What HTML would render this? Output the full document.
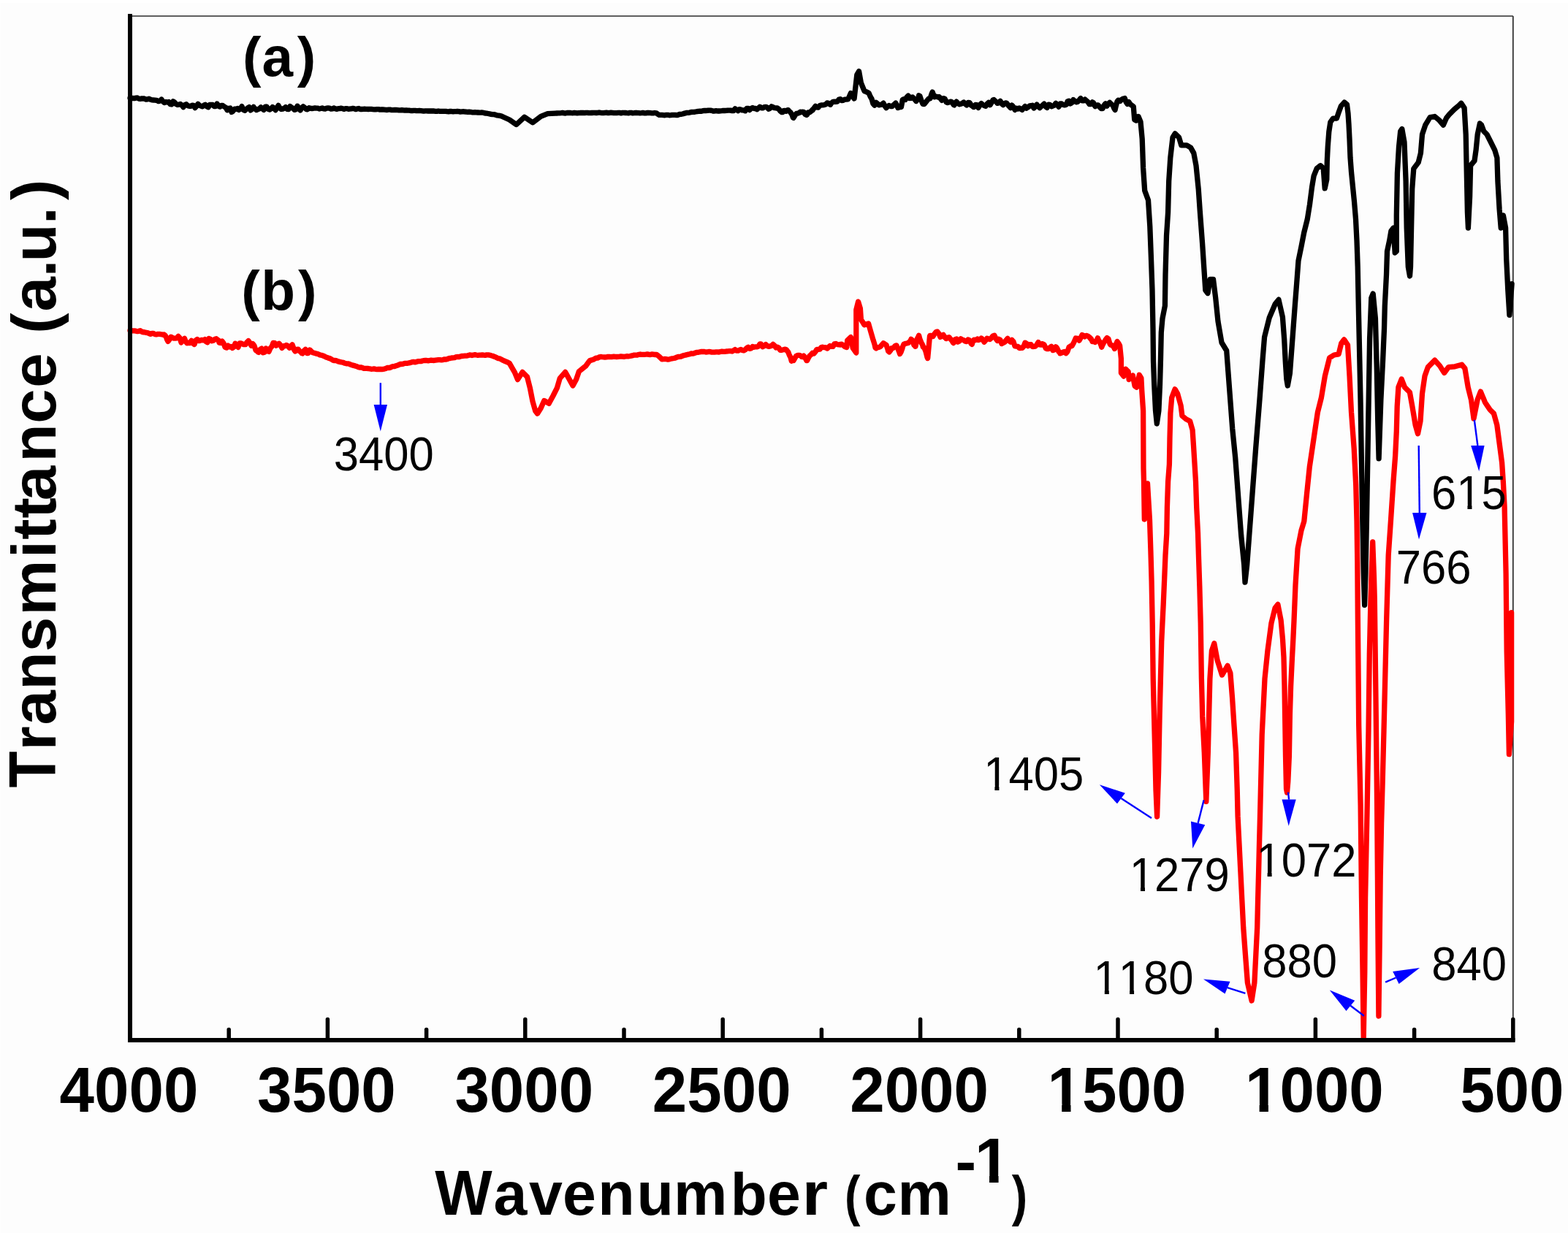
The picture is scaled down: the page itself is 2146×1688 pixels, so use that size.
<!DOCTYPE html>
<html><head><meta charset="utf-8"><title>FTIR spectra</title>
<style>html,body{margin:0;padding:0;background:#fdfdfd;overflow:hidden}svg{display:block}text{font-kerning:none;font-feature-settings:'kern' 0;}</style>
</head><body>
<svg width="2146" height="1688" viewBox="0 0 2146 1688" font-family="'Liberation Sans', Arial, sans-serif">
<defs><clipPath id="c0"><path clip-rule="evenodd" d="M-141.08,-175.00H141.08V70.00H-141.08Z"/></clipPath><clipPath id="c1"><path clip-rule="evenodd" d="M-141.08,-175.00H141.08V70.00H-141.08Z"/></clipPath><clipPath id="c2"><path clip-rule="evenodd" d="M-141.08,-175.00H141.08V70.00H-141.08Z"/></clipPath><clipPath id="c3"><path clip-rule="evenodd" d="M-141.08,-175.00H141.08V70.00H-141.08Z"/></clipPath><clipPath id="c4"><path clip-rule="evenodd" d="M-141.08,-175.00H141.08V70.00H-141.08Z"/></clipPath><clipPath id="c5"><path clip-rule="evenodd" d="M-141.08,-175.00H141.08V70.00H-141.08ZM-92.82,-10.13H-77.20V6.38H-92.82ZM-64.60,-10.13H-50.10V6.38H-64.60Z"/></clipPath><clipPath id="c6"><path clip-rule="evenodd" d="M-141.08,-175.00H141.08V70.00H-141.08ZM-92.82,-10.13H-77.20V6.38H-92.82ZM-64.60,-10.13H-50.10V6.38H-64.60Z"/></clipPath><clipPath id="c7"><path clip-rule="evenodd" d="M-116.74,-175.00H116.74V70.00H-116.74Z"/></clipPath><clipPath id="c8"><path clip-rule="evenodd" d="M-32.25,-129.00H175.74V51.60H-32.25Z"/></clipPath><clipPath id="c9"><path clip-rule="evenodd" d="M-32.25,-129.00H175.74V51.60H-32.25ZM3.91,-6.02H15.92V5.22H3.91ZM22.22,-6.02H33.72V5.22H22.22Z"/></clipPath><clipPath id="c10"><path clip-rule="evenodd" d="M-32.25,-129.00H175.74V51.60H-32.25ZM3.91,-6.02H15.92V5.22H3.91ZM22.22,-6.02H33.72V5.22H22.22Z"/></clipPath><clipPath id="c11"><path clip-rule="evenodd" d="M-32.25,-129.00H175.74V51.60H-32.25ZM3.91,-6.02H15.92V5.22H3.91ZM22.22,-6.02H33.72V5.22H22.22Z"/></clipPath><clipPath id="c12"><path clip-rule="evenodd" d="M-32.25,-129.00H175.74V51.60H-32.25ZM3.91,-6.02H15.92V5.22H3.91ZM22.22,-6.02H33.72V5.22H22.22ZM39.78,-6.02H51.79V5.22H39.78ZM58.09,-6.02H69.59V5.22H58.09Z"/></clipPath><clipPath id="c13"><path clip-rule="evenodd" d="M-32.25,-129.00H139.87V51.60H-32.25Z"/></clipPath><clipPath id="c14"><path clip-rule="evenodd" d="M-32.25,-129.00H139.87V51.60H-32.25Z"/></clipPath><clipPath id="c15"><path clip-rule="evenodd" d="M-32.25,-129.00H139.87V51.60H-32.25Z"/></clipPath><clipPath id="c16"><path clip-rule="evenodd" d="M-32.25,-129.00H139.87V51.60H-32.25ZM39.78,-6.02H51.79V5.22H39.78ZM58.09,-6.02H69.59V5.22H58.09Z"/></clipPath><clipPath id="c17"><path clip-rule="evenodd" d="M-43.45,-173.80H91.78V69.52H-43.45ZM4.47,-10.07H19.98V6.35H4.47ZM32.51,-10.07H46.91V6.35H32.51Z"/></clipPath></defs>
<rect x="0" y="0" width="2146" height="1688" fill="#fdfdfd"/>
<rect x="0" y="0" width="2146" height="4" fill="#fff"/>
<rect x="0" y="0" width="1" height="1688" fill="#fff"/>
<!-- frame -->
<line x1="178" y1="22" x2="2070.8" y2="22" stroke="#2a2a2a" stroke-width="1.7"/>
<line x1="2070.8" y1="22" x2="2070.8" y2="1424" stroke="#2a2a2a" stroke-width="1.7"/>
<!-- curves -->
<polyline points="178.0,134.2 180.0,134.3 182.0,134.5 184.0,134.7 186.0,134.1 188.0,134.0 190.0,135.1 192.0,135.4 194.0,134.8 196.0,135.0 196.6,134.8 198.0,135.2 200.0,136.2 202.0,135.9 204.0,135.2 206.0,136.2 208.0,136.9 210.0,137.0 212.0,137.1 214.0,137.4 215.0,137.6 217.0,138.7 219.0,138.1 221.0,136.1 223.0,139.1 224.6,140.2 225.0,140.5 227.0,139.4 229.0,140.0 231.0,139.4 233.0,142.7 235.0,143.0 237.0,138.7 239.0,140.2 241.0,142.5 243.0,143.5 245.0,143.1 247.0,142.5 249.0,144.1 251.0,146.6 252.6,144.2 253.0,143.4 255.0,142.8 257.0,144.7 259.0,145.3 261.0,145.3 263.0,144.1 265.0,144.3 267.0,147.6 269.0,145.4 271.0,142.3 273.0,144.4 275.0,145.1 277.0,145.8 279.0,144.3 281.0,143.2 283.0,145.8 285.0,146.8 287.0,143.5 289.0,143.3 291.0,143.5 293.0,145.5 295.0,145.6 297.0,142.0 299.0,145.2 301.0,146.1 303.0,144.4 304.7,144.4 305.0,144.7 307.0,146.1 309.0,147.2 311.0,150.8 312.2,148.8 313.0,148.3 315.0,148.0 317.0,153.4 319.0,152.1 321.0,149.1 323.0,149.4 325.0,148.4 327.0,150.5 329.0,148.9 331.0,145.6 333.0,150.2 335.0,151.3 337.0,149.7 339.0,147.8 341.0,146.6 343.0,150.9 345.0,149.4 347.0,146.4 349.0,149.0 351.0,150.6 353.0,149.7 355.0,148.8 357.0,146.9 359.0,148.8 361.0,150.5 363.0,146.2 364.4,146.0 365.0,146.1 367.0,149.4 369.0,150.1 371.0,148.9 373.0,146.5 375.0,148.0 377.0,150.7 379.0,147.7 381.0,144.4 383.0,148.0 385.0,149.5 387.0,149.1 389.0,148.2 391.0,146.5 393.0,149.3 395.0,149.6 397.0,145.5 399.0,147.3 401.0,148.2 403.0,150.4 405.0,149.8 407.0,145.2 409.0,148.0 411.0,151.0 413.0,147.5 415.0,145.8 417.0,147.4 419.0,149.4 420.3,149.8 421.0,149.5 423.0,147.6 425.0,148.3 427.0,148.5 429.0,148.3 431.0,147.8 433.0,148.1 435.0,148.1 437.0,149.0 439.0,148.5 441.0,147.9 443.0,148.8 445.0,149.0 447.0,148.2 449.0,148.0 451.0,148.2 453.0,149.1 455.0,148.8 457.0,148.0 459.0,148.8 461.0,149.4 463.0,148.7 465.0,148.6 467.0,148.1 469.0,148.8 471.0,149.4 473.0,148.6 475.0,148.7 477.0,149.3 479.0,149.0 481.0,148.9 483.0,148.3 485.0,148.8 487.0,149.7 489.0,148.8 491.0,148.5 493.0,149.5 494.9,149.5 495.0,149.5 497.0,149.3 499.0,149.1 500.0,149.3 502.0,149.3 504.0,149.5 506.0,149.3 508.0,149.4 510.0,149.7 512.0,149.8 514.0,149.9 516.0,149.6 518.0,149.6 520.0,150.2 522.0,150.0 524.0,150.0 526.0,150.1 528.0,150.3 530.0,150.5 532.0,150.2 534.0,150.2 536.0,150.6 538.0,150.6 540.0,150.4 542.0,150.5 544.0,150.7 546.0,150.9 548.0,150.9 550.0,150.7 552.0,150.9 554.0,151.2 556.0,150.9 558.0,151.1 560.0,151.2 562.0,151.5 564.0,151.7 566.0,151.3 568.0,151.3 570.0,151.6 572.0,151.6 574.0,151.5 576.0,151.6 578.0,151.8 580.0,152.1 582.0,151.9 584.0,151.8 586.0,152.0 588.0,152.0 590.0,152.0 592.0,152.0 594.0,152.0 596.0,152.4 598.0,152.4 600.0,152.0 602.0,152.3 604.0,152.4 606.0,152.3 608.0,152.4 610.0,152.3 612.0,152.6 614.0,152.8 616.0,152.4 618.0,152.5 620.0,152.8 622.0,152.6 624.0,152.7 626.0,152.5 628.0,152.7 630.0,153.1 632.0,152.9 633.9,152.8 634.0,152.7 636.0,153.0 638.0,153.1 640.0,153.3 642.0,153.1 644.0,153.3 646.0,153.8 648.0,153.8 650.0,153.7 652.0,153.8 654.0,154.0 656.0,154.2 658.0,154.2 660.0,154.0 661.9,154.3 662.0,154.4 664.0,155.0 666.0,155.1 668.0,155.5 670.0,155.9 672.0,156.3 674.0,156.7 676.0,156.7 678.0,157.1 680.0,157.9 682.0,158.1 684.0,158.4 686.0,158.8 686.1,158.8 688.0,159.7 697.3,164.0 706.6,170.6 717.8,160.3 729.0,167.8 740.2,159.4 749.5,155.7 760.0,155.1 762.0,155.0 764.0,154.9 766.0,154.9 768.0,154.7 768.1,154.7 770.0,154.4 772.0,154.8 774.0,155.0 776.0,154.5 778.0,154.5 780.0,154.5 782.0,154.7 784.0,154.8 786.0,154.3 788.0,154.6 790.0,154.9 792.0,154.6 794.0,154.5 796.0,154.3 798.0,154.5 800.0,154.7 802.0,154.4 804.0,154.3 806.0,154.7 808.0,154.7 810.0,154.5 812.0,154.3 814.0,154.3 816.0,154.5 816.6,154.5 818.0,154.4 820.0,154.0 822.0,154.4 824.0,154.6 826.0,154.6 828.0,154.4 830.0,154.2 832.0,154.6 834.0,154.5 836.0,154.2 838.0,154.4 840.0,154.7 842.0,154.7 844.0,154.6 846.0,154.4 848.0,154.4 850.0,154.8 852.0,154.4 854.0,154.3 856.0,154.5 858.0,154.7 860.0,154.8 862.0,154.4 864.0,154.4 866.0,154.8 868.0,154.7 870.0,154.3 872.0,154.5 874.0,154.6 876.0,154.8 878.0,154.7 880.0,154.4 882.0,154.8 884.0,154.8 886.0,154.4 888.0,154.5 890.0,154.6 892.0,154.8 894.0,154.9 896.0,154.5 898.0,154.8 898.6,154.8 900.0,156.1 902.0,157.2 902.3,157.4 904.0,157.3 906.0,157.4 908.0,157.6 910.0,157.8 912.0,157.3 914.0,157.3 916.0,157.8 918.0,157.7 920.0,157.4 922.0,157.3 924.0,157.4 926.0,157.7 926.6,157.7 928.0,157.2 930.0,156.5 932.0,156.4 934.0,156.0 936.0,155.4 938.0,154.9 940.0,154.3 941.5,154.3 942.0,154.3 944.0,154.1 946.0,153.5 948.0,153.4 950.0,153.4 952.0,153.0 954.0,152.7 956.0,152.3 958.0,152.2 960.0,152.3 962.0,151.7 964.0,151.5 966.0,151.5 968.0,151.4 969.4,151.1 970.0,151.2 972.0,151.1 974.0,151.4 976.0,152.1 978.0,152.0 980.0,151.7 982.0,152.0 984.0,152.0 986.0,151.8 988.0,151.6 990.0,151.3 992.0,151.5 994.0,151.4 996.0,151.1 998.0,151.2 1000.0,151.1 1002.0,151.6 1004.0,151.6 1006.0,148.8 1008.0,150.2 1010.0,151.7 1012.0,149.6 1014.0,150.0 1015.3,150.7 1016.0,150.9 1018.0,150.9 1020.0,151.8 1022.0,148.4 1024.0,148.3 1026.0,150.6 1028.0,148.5 1030.0,147.5 1032.0,148.5 1034.0,148.4 1036.0,149.8 1038.0,148.0 1040.0,146.2 1041.4,146.9 1042.0,147.9 1044.0,147.9 1046.0,146.7 1048.0,146.3 1050.0,146.9 1052.0,149.3 1054.0,148.3 1056.0,145.8 1058.0,146.6 1060.0,147.7 1062.0,148.0 1064.0,148.0 1066.0,149.4 1068.0,152.3 1070.0,153.6 1071.2,153.6 1072.0,151.6 1074.0,151.4 1076.0,152.3 1078.0,150.6 1078.7,150.6 1080.0,152.1 1082.0,153.9 1084.0,156.9 1085.2,160.8 1086.0,161.3 1088.0,158.0 1090.0,155.3 1092.0,155.1 1094.0,154.3 1095.4,153.2 1096.0,153.7 1098.0,153.2 1100.0,153.3 1102.0,156.5 1104.0,157.5 1104.7,156.8 1106.0,154.0 1108.0,153.9 1110.0,152.4 1112.0,150.2 1112.2,150.9 1114.0,148.1 1116.0,145.3 1118.0,146.8 1119.7,147.1 1120.0,146.9 1122.0,144.5 1124.0,143.9 1126.0,143.8 1128.0,143.6 1130.0,143.0 1132.0,140.9 1134.0,141.3 1136.0,143.2 1136.4,143.3 1138.0,141.0 1140.0,139.4 1142.0,139.2 1144.0,139.3 1145.8,138.6 1146.0,139.0 1148.0,136.3 1150.0,135.6 1152.0,137.7 1154.0,137.4 1156.0,136.2 1158.0,136.2 1160.7,135.9 1164.4,127.5 1169.1,135.0 1172.8,102.4 1175.6,97.7 1178.4,113.5 1183.0,124.7 1185.0,125.4 1187.0,126.3 1188.6,127.0 1189.0,127.3 1191.0,131.9 1192.3,134.2 1193.0,135.3 1195.0,142.1 1197.0,144.2 1197.9,142.4 1199.0,140.3 1201.0,141.9 1203.0,143.8 1205.0,143.5 1207.0,142.9 1207.3,142.4 1209.0,141.2 1211.0,145.1 1213.0,147.7 1215.0,145.2 1216.6,145.1 1217.0,144.6 1219.0,145.5 1221.0,145.6 1223.0,143.7 1225.0,141.9 1225.9,141.1 1227.0,143.3 1229.0,147.6 1231.0,146.9 1233.0,146.0 1233.4,146.5 1235.0,138.3 1235.2,136.7 1237.0,135.6 1239.0,136.5 1241.0,133.2 1243.0,131.2 1245.0,134.5 1246.4,133.4 1247.0,134.4 1249.0,133.0 1251.0,135.0 1253.0,137.3 1253.9,138.5 1255.0,137.1 1257.0,133.6 1257.6,130.7 1259.0,131.6 1261.0,137.6 1263.0,142.3 1265.0,142.5 1267.0,140.0 1269.0,137.5 1271.0,135.1 1273.0,134.8 1275.0,128.8 1276.2,126.1 1277.0,128.3 1279.0,132.8 1281.0,132.2 1283.0,132.6 1285.0,133.5 1285.5,132.6 1287.0,134.7 1289.0,137.4 1291.0,134.6 1293.0,135.0 1294.9,139.1 1295.0,139.8 1297.0,140.6 1299.0,140.0 1301.0,139.1 1303.0,139.7 1305.0,143.3 1306.0,143.9 1307.0,141.9 1309.0,139.1 1311.0,141.4 1313.0,142.8 1315.0,142.2 1317.0,141.5 1319.0,140.0 1321.0,142.2 1323.0,143.9 1325.0,140.4 1327.0,140.7 1328.4,142.7 1329.0,144.0 1331.0,145.2 1332.1,146.4 1333.0,146.6 1335.0,143.5 1337.0,143.7 1339.0,147.5 1341.0,143.9 1343.0,141.5 1345.0,143.6 1347.0,144.6 1349.0,145.3 1350.8,142.9 1351.0,142.2 1353.0,140.3 1355.0,143.7 1357.0,140.6 1359.0,137.0 1360.1,136.4 1361.0,137.4 1363.0,139.0 1365.0,141.4 1367.0,140.8 1369.0,138.4 1371.0,141.9 1373.0,143.6 1375.0,141.3 1377.0,140.9 1378.0,141.5 1379.0,142.9 1381.0,145.4 1383.0,147.6 1385.0,144.1 1387.0,146.6 1389.0,150.4 1391.0,148.2 1393.0,149.1 1394.3,148.5 1395.0,148.0 1397.0,149.1 1399.0,150.4 1401.0,147.7 1403.0,145.6 1405.0,148.1 1407.0,146.6 1407.6,146.7 1409.0,144.8 1411.0,144.7 1413.0,144.2 1415.0,148.0 1417.0,145.9 1419.0,143.0 1421.0,145.8 1423.0,147.7 1425.0,145.7 1427.0,144.0 1429.0,142.2 1431.0,145.8 1433.0,147.4 1435.0,143.2 1437.0,143.4 1439.0,145.7 1441.0,145.0 1443.0,144.1 1444.6,141.9 1445.0,141.4 1447.0,143.3 1449.0,146.3 1451.0,141.9 1453.0,142.0 1455.0,143.4 1457.0,143.8 1459.0,143.4 1459.4,143.1 1461.0,139.0 1463.0,138.2 1465.0,141.9 1467.0,140.7 1469.0,136.6 1471.0,138.4 1473.0,139.8 1474.3,138.8 1475.0,139.3 1477.0,137.1 1479.0,134.6 1481.0,137.8 1483.0,137.2 1483.1,137.9 1485.0,136.1 1487.0,137.9 1489.0,139.7 1491.0,142.6 1493.0,142.5 1495.0,139.8 1496.5,140.7 1497.0,142.7 1499.0,145.7 1501.0,143.8 1503.0,143.9 1505.0,146.5 1506.8,148.3 1507.0,148.6 1509.0,148.7 1511.0,144.4 1513.0,141.9 1515.0,145.1 1517.0,141.9 1518.7,140.3 1519.0,140.9 1521.0,142.6 1523.0,144.1 1525.0,148.8 1526.1,150.4 1527.0,146.2 1529.0,138.9 1530.5,137.2 1531.0,137.4 1533.0,138.4 1535.0,136.3 1537.0,135.1 1539.0,134.8 1539.4,134.6 1541.0,139.4 1543.0,142.4 1545.0,139.7 1546.8,142.6 1547.0,142.7 1551.3,145.9 1552.7,163.7 1555.0,165.0 1558.0,159.5 1561.0,166.6 1563.2,190.0 1564.6,230.0 1566.7,261.0 1571.5,274.0 1573.8,310.0 1575.4,352.0 1577.0,397.0 1578.0,450.0 1578.5,494.6 1579.7,526.6 1581.5,562.2 1583.3,580.0 1585.9,562.2 1587.5,526.6 1588.5,491.0 1589.3,455.0 1591.0,436.0 1594.4,418.6 1595.0,376.0 1596.5,322.6 1598.6,290.6 1599.7,248.0 1601.8,216.0 1605.0,188.2 1608.2,182.9 1613.6,188.2 1616.8,198.9 1624.2,198.9 1629.6,202.1 1633.8,209.6 1637.0,226.6 1640.2,258.6 1642.4,290.6 1645.6,333.3 1647.7,365.3 1649.8,397.2 1653.0,401.5 1656.2,382.3 1660.5,382.3 1663.7,407.9 1667.0,440.0 1672.0,469.0 1678.7,480.0 1682.7,533.3 1686.7,586.6 1690.7,626.6 1694.7,680.0 1698.7,733.2 1702.7,773.2 1704.0,797.2 1706.7,773.2 1710.7,720.0 1714.7,666.6 1718.7,613.3 1724.0,546.6 1728.0,493.3 1730.6,461.3 1737.3,434.7 1745.3,416.0 1750.0,410.2 1755.4,434.0 1757.7,464.8 1759.3,495.6 1760.8,518.8 1762.3,528.0 1765.4,511.0 1767.7,480.2 1770.0,449.4 1772.3,418.6 1774.7,387.8 1777.0,357.0 1780.8,338.5 1784.7,318.5 1789.3,300.0 1792.5,280.0 1795.6,255.9 1798.1,240.8 1802.2,230.7 1807.2,226.7 1811.2,230.7 1813.2,257.9 1815.8,245.8 1816.3,220.6 1817.3,200.5 1818.8,180.4 1820.8,167.3 1824.3,162.2 1829.4,162.2 1832.4,153.2 1835.4,145.1 1839.9,140.1 1843.5,143.1 1845.0,155.2 1846.0,170.3 1847.0,190.4 1848.0,215.6 1849.5,235.7 1851.5,255.9 1853.5,276.0 1855.5,300.0 1857.0,330.0 1858.2,365.0 1859.5,430.0 1861.0,500.0 1862.0,547.0 1863.4,630.6 1864.8,714.2 1866.2,783.8 1867.6,828.3 1869.0,783.8 1870.4,714.2 1871.8,630.6 1873.2,547.0 1874.6,463.5 1876.8,407.8 1879.2,402.0 1882.4,435.7 1884.3,505.3 1885.7,575.0 1887.1,627.8 1889.9,547.0 1892.7,491.4 1894.5,450.0 1895.3,418.6 1897.5,375.9 1898.5,343.9 1901.7,329.0 1903.9,316.2 1907.1,312.0 1909.2,346.0 1911.3,343.9 1911.3,294.9 1912.4,237.3 1914.5,201.0 1916.7,179.7 1918.8,176.5 1922.0,194.6 1924.1,248.0 1925.2,312.0 1927.3,365.3 1929.5,378.0 1930.5,365.3 1931.6,312.0 1932.7,258.6 1934.8,230.9 1941.2,222.4 1944.4,209.6 1946.5,184.0 1950.8,171.2 1957.2,160.5 1963.6,159.5 1970.0,164.8 1975.3,171.2 1979.6,161.6 1983.8,156.3 1990.2,149.9 1996.6,144.5 1999.8,141.3 2004.1,147.7 2006.2,184.0 2007.3,237.3 2008.4,290.6 2009.4,312.0 2011.6,269.3 2012.6,226.6 2018.0,220.2 2020.1,205.3 2022.2,184.0 2025.4,169.0 2027.6,171.2 2030.8,179.7 2035.0,184.0 2039.3,192.5 2045.7,205.3 2048.9,216.0 2049.9,248.0 2052.1,286.3 2054.2,312.0 2057.4,294.9 2060.6,312.0 2061.7,354.6 2063.8,397.2 2065.9,431.4 2069.1,388.7" fill="none" stroke="#000" stroke-width="7.3" stroke-linejoin="round" stroke-linecap="round"/>
<polyline points="178.0,452.4 180.0,452.6 182.0,452.8 184.0,452.9 186.0,453.2 188.0,453.7 190.0,453.3 192.0,452.6 194.0,454.2 196.0,454.9 196.6,454.5 198.0,454.9 200.0,455.3 202.0,455.7 204.0,456.5 206.0,457.3 208.0,456.4 210.0,456.4 212.0,457.6 214.0,457.9 216.0,457.3 218.0,457.4 220.0,457.7 222.0,457.9 224.0,458.5 224.6,458.1 226.0,459.2 228.0,462.6 228.3,464.3 230.0,467.4 232.0,464.6 233.9,461.2 234.0,461.2 236.0,462.3 238.0,463.2 240.0,463.1 242.0,462.8 244.0,460.4 246.0,462.5 248.0,468.9 250.0,465.7 252.0,463.8 252.6,463.4 254.0,467.5 256.0,469.7 258.0,469.1 258.1,469.6 260.0,469.5 262.0,466.4 264.0,470.1 266.0,471.5 268.0,466.0 270.0,464.5 271.2,466.4 272.0,466.7 274.0,466.3 276.0,465.3 278.0,465.9 280.0,465.2 280.5,464.5 282.0,467.7 284.0,468.7 286.0,463.5 288.0,464.4 290.0,466.8 292.0,466.3 294.0,464.2 296.0,463.7 298.0,465.4 299.2,466.0 300.0,469.1 302.0,469.5 304.0,467.0 306.0,469.8 308.0,475.3 310.0,476.0 310.3,475.5 312.0,473.0 314.0,475.0 316.0,474.5 318.0,476.5 320.0,475.1 322.0,470.2 324.0,471.5 326.0,475.4 327.1,471.9 328.0,470.0 330.0,469.9 332.0,471.0 334.0,471.7 336.0,471.7 338.0,468.6 340.0,466.6 342.0,469.4 344.0,473.3 346.0,470.6 348.0,473.4 350.0,479.4 352.0,480.8 353.2,482.1 354.0,482.4 356.0,478.3 358.0,477.1 360.0,482.8 362.0,482.2 364.0,476.9 366.0,479.0 366.3,480.8 368.0,481.4 370.0,476.6 372.0,474.3 373.7,470.2 374.0,469.4 376.0,469.7 378.0,473.1 380.0,471.4 382.0,470.2 384.0,472.8 386.0,476.4 388.0,473.6 390.0,473.7 392.0,472.4 394.0,473.4 396.0,476.2 398.0,474.7 400.0,471.8 401.7,476.3 402.0,477.9 404.0,480.9 406.0,478.3 408.0,478.1 410.0,480.7 412.0,482.1 412.9,483.5 414.0,483.9 416.0,480.2 418.0,478.3 420.0,482.9 420.3,483.6 422.0,483.3 424.0,479.0 426.0,480.9 428.0,482.7 430.0,483.2 432.0,483.9 434.0,484.3 436.0,484.9 438.0,486.0 439.0,486.2 440.0,486.3 442.0,486.9 444.0,487.8 446.0,488.9 448.0,489.5 450.0,490.4 452.0,490.9 454.0,492.1 456.0,493.2 457.6,493.6 458.0,493.4 460.0,493.6 462.0,494.5 464.0,495.2 466.0,495.6 468.0,496.0 470.0,496.4 472.0,497.3 474.0,497.8 476.0,497.8 476.2,497.8 478.0,498.3 480.0,499.2 482.0,499.9 484.0,500.4 486.0,500.9 488.0,501.5 490.0,502.4 492.0,503.0 494.0,503.0 494.9,503.0 496.0,503.5 498.0,504.3 500.0,504.3 502.0,504.3 504.0,504.5 506.0,504.8 508.0,505.3 510.0,505.2 512.0,505.0 513.5,505.1 514.0,505.4 516.0,505.7 518.0,505.5 520.0,505.4 522.0,505.5 522.8,505.6 524.0,505.4 526.0,505.1 528.0,504.5 530.0,503.5 532.0,503.5 532.1,503.6 534.0,503.4 536.0,502.2 538.0,501.6 540.0,501.5 542.0,500.8 544.0,500.2 546.0,499.3 548.0,498.4 550.0,498.5 550.8,498.3 552.0,498.1 554.0,497.4 556.0,497.3 558.0,497.3 560.0,496.8 562.0,496.4 564.0,495.7 566.0,495.4 568.0,495.8 570.0,495.4 572.0,494.7 574.0,494.7 576.0,494.7 578.0,494.0 580.0,493.7 582.0,493.5 584.0,493.5 586.0,493.9 588.0,493.5 590.0,493.1 592.0,493.4 594.0,493.5 596.0,493.1 598.0,492.9 600.0,492.7 602.0,492.7 604.0,492.9 606.0,492.6 608.0,491.8 610.0,492.1 612.0,491.7 614.0,490.7 616.0,490.5 618.0,490.0 620.0,489.9 622.0,489.7 624.0,488.7 624.6,488.7 626.0,488.5 628.0,488.7 630.0,488.1 632.0,487.5 634.0,487.3 636.0,487.2 638.0,487.1 640.0,486.8 642.0,486.2 643.2,485.9 644.0,486.0 646.0,486.5 648.0,486.0 650.0,485.6 652.0,486.0 654.0,486.3 656.0,486.2 658.0,486.1 660.0,485.8 662.0,486.2 664.0,486.4 666.0,485.9 668.0,485.8 670.0,486.2 671.2,486.4 672.0,486.7 674.0,487.2 676.0,488.1 678.0,488.7 680.0,489.7 682.0,490.7 684.0,490.9 686.0,491.9 688.0,493.1 689.8,493.8 690.0,494.0 692.0,494.8 694.0,495.7 696.0,496.6 697.3,497.4 698.0,498.6 704.7,510.3 708.5,519.6 715.0,509.4 721.5,515.9 725.3,530.8 729.0,549.5 732.7,562.5 735.5,566.2 740.2,558.8 744.8,548.5 751.3,552.3 756.9,542.0 762.5,530.8 766.3,517.8 773.7,509.4 779.3,519.6 784.0,528.0 788.6,519.6 792.4,508.5 800.0,502.4 801.7,501.1 802.0,500.7 804.0,497.9 806.0,495.1 807.3,493.6 808.0,493.4 810.0,492.9 812.0,492.2 814.0,491.1 816.0,490.2 818.0,490.0 820.0,489.2 820.3,488.9 822.0,488.5 824.0,488.7 826.0,488.8 828.0,489.0 830.0,488.9 832.0,488.3 834.0,488.5 836.0,488.7 838.0,488.5 840.0,488.1 842.0,488.3 844.0,488.5 846.0,488.4 848.0,488.2 850.0,487.9 852.0,488.1 854.0,488.4 856.0,488.0 857.6,487.8 858.0,487.6 860.0,487.8 862.0,487.5 864.0,487.1 866.0,486.7 868.0,486.1 870.0,486.2 872.0,486.1 874.0,485.3 876.0,485.1 876.2,485.0 878.0,485.4 880.0,485.4 882.0,485.3 884.0,485.2 886.0,484.9 888.0,485.4 890.0,485.5 892.0,484.9 894.0,485.1 896.0,485.5 898.0,485.4 898.6,485.3 900.0,486.4 902.0,488.0 904.0,489.9 906.0,491.9 908.0,491.7 910.0,491.4 912.0,491.7 914.0,492.1 916.0,491.8 917.2,491.5 918.0,491.3 920.0,490.8 922.0,490.5 924.0,490.1 926.0,489.2 928.0,488.5 930.0,488.4 932.0,488.1 934.0,487.2 936.0,486.5 938.0,486.1 940.0,485.6 941.5,485.2 942.0,485.2 944.0,484.7 946.0,484.0 948.0,484.2 950.0,483.7 952.0,482.8 954.0,482.4 956.0,482.3 958.0,481.8 960.0,481.4 960.1,481.5 962.0,481.3 964.0,481.5 966.0,482.0 968.0,481.9 970.0,481.5 972.0,481.7 974.0,482.1 976.0,482.1 978.0,482.1 980.0,481.9 982.0,481.9 984.0,482.1 986.0,481.5 988.0,481.1 990.0,481.3 992.0,481.3 994.0,481.0 996.0,480.8 998.0,480.7 1000.0,480.6 1002.0,481.0 1004.0,479.9 1006.0,478.6 1008.0,480.2 1010.0,480.2 1012.0,479.1 1014.0,478.4 1016.0,479.4 1018.0,479.9 1019.0,479.3 1020.0,478.8 1022.0,476.4 1024.0,475.3 1026.0,477.3 1028.0,476.9 1030.0,474.5 1032.0,475.3 1034.0,474.8 1036.0,474.9 1038.0,474.1 1040.0,470.8 1041.4,470.8 1042.0,472.1 1044.0,474.8 1046.0,473.5 1048.0,471.5 1050.0,473.6 1052.0,474.4 1054.0,473.9 1056.0,473.3 1058.0,471.4 1060.0,473.0 1062.0,476.0 1064.0,475.1 1066.0,476.4 1067.5,478.9 1068.0,479.4 1070.0,479.3 1072.0,478.8 1074.0,478.2 1076.0,478.6 1078.0,481.1 1078.7,481.9 1080.0,485.3 1082.0,489.4 1083.3,494.2 1084.0,493.5 1086.0,493.6 1088.0,490.1 1089.8,487.1 1090.0,487.1 1092.0,486.3 1094.0,486.3 1096.0,487.3 1097.3,488.4 1098.0,488.6 1100.0,487.1 1102.0,490.1 1104.0,493.7 1104.7,493.6 1106.0,490.7 1108.0,487.2 1110.0,485.5 1112.0,483.3 1112.2,484.2 1114.0,484.0 1116.0,481.5 1118.0,478.3 1120.0,478.3 1121.5,478.1 1122.0,478.2 1124.0,475.6 1126.0,475.2 1128.0,475.7 1130.0,475.7 1132.0,477.1 1132.7,476.8 1134.0,475.2 1136.0,473.4 1138.0,474.4 1140.0,474.4 1142.0,470.9 1144.0,470.5 1146.0,471.6 1148.0,471.8 1149.5,471.5 1150.0,472.1 1152.0,471.2 1154.0,472.5 1156.0,474.6 1158.8,475.5 1159.7,466.2 1164.4,461.5 1167.2,476.4 1171.8,482.9 1171.8,424.2 1174.6,413.0 1177.4,422.4 1178.4,437.3 1183.0,444.7 1188.6,442.9 1192.3,455.9 1195.0,465.2 1197.0,471.5 1198.0,476.0 1199.0,476.9 1201.0,475.6 1203.0,475.3 1205.0,474.6 1205.4,474.0 1207.0,472.0 1209.0,469.9 1209.1,469.7 1211.0,471.0 1213.0,472.3 1215.0,478.1 1215.6,480.6 1217.0,481.9 1219.0,479.5 1220.3,476.7 1221.0,477.1 1223.0,476.0 1225.0,473.6 1226.8,472.8 1227.0,472.9 1229.0,477.6 1231.0,482.8 1231.5,484.6 1233.0,482.1 1235.0,476.8 1235.2,475.2 1237.0,471.1 1239.0,470.4 1241.0,470.0 1243.0,469.5 1245.0,467.7 1246.4,465.8 1247.0,464.3 1249.0,466.5 1251.0,472.6 1252.9,473.4 1253.0,474.4 1255.0,464.4 1257.0,460.6 1257.6,459.3 1259.0,464.4 1261.0,469.2 1263.0,473.0 1263.2,474.9 1265.0,476.1 1267.0,481.2 1269.0,489.1 1269.7,490.5 1271.0,476.5 1272.5,460.1 1273.0,459.3 1275.0,459.7 1277.0,460.5 1279.0,457.0 1281.0,454.6 1281.8,454.2 1283.0,454.0 1285.0,456.8 1287.0,461.5 1289.0,459.1 1291.0,458.3 1293.0,461.9 1294.9,462.2 1295.0,463.6 1297.0,462.3 1299.0,461.6 1301.0,464.3 1303.0,466.5 1304.2,468.7 1305.0,469.6 1307.0,464.9 1309.0,464.0 1311.0,468.0 1313.0,467.0 1315.0,463.8 1317.0,465.1 1319.0,465.8 1321.0,467.1 1322.8,466.7 1323.0,467.4 1325.0,464.9 1327.0,466.0 1329.0,470.3 1330.3,471.3 1331.0,468.8 1333.0,465.2 1335.0,465.5 1337.0,464.7 1337.7,464.1 1339.0,465.5 1341.0,465.0 1343.0,463.0 1345.0,464.4 1347.0,468.3 1349.0,465.8 1350.8,464.1 1351.0,463.2 1353.0,463.9 1355.0,464.5 1357.0,462.5 1358.2,460.7 1359.0,460.0 1361.0,459.3 1363.0,463.6 1365.0,466.5 1367.0,464.3 1369.0,465.5 1371.0,470.6 1371.3,470.2 1373.0,469.3 1375.0,468.4 1377.0,465.9 1378.0,464.5 1379.0,463.3 1381.0,466.6 1383.0,468.1 1385.0,465.4 1385.1,465.7 1387.0,467.8 1389.0,473.9 1391.0,474.1 1393.0,474.4 1395.0,476.4 1395.8,476.7 1397.0,476.1 1399.0,476.4 1401.0,474.3 1403.0,469.2 1405.0,470.4 1406.4,472.7 1407.0,473.7 1409.0,471.7 1411.0,471.7 1413.0,474.4 1413.5,474.5 1415.0,474.4 1417.0,474.1 1419.0,471.9 1421.0,468.5 1423.0,471.9 1425.0,472.2 1426.0,470.7 1427.0,470.9 1429.0,471.8 1431.0,476.1 1431.3,476.9 1433.0,477.6 1435.0,477.6 1437.0,475.7 1439.0,474.3 1441.0,479.6 1443.0,478.8 1445.0,474.8 1445.5,475.1 1447.0,477.2 1449.0,481.4 1450.9,483.0 1451.0,483.8 1453.0,483.1 1455.0,482.0 1456.2,482.5 1457.0,481.6 1459.0,483.7 1461.0,481.2 1463.0,475.3 1465.0,473.9 1466.9,473.4 1467.0,473.6 1469.0,470.2 1471.0,466.0 1472.2,463.0 1473.0,463.2 1475.0,463.4 1477.0,466.1 1479.0,462.6 1481.0,458.5 1483.0,459.5 1484.6,460.8 1485.0,460.0 1487.0,459.4 1489.0,460.1 1491.0,461.6 1493.0,464.1 1493.5,464.0 1495.0,467.7 1497.0,467.5 1498.8,468.4 1499.0,468.0 1501.0,466.1 1502.4,462.8 1503.0,464.5 1505.0,467.9 1507.0,472.8 1507.7,475.3 1509.0,472.2 1511.0,468.6 1513.0,465.3 1513.1,465.2 1515.0,462.6 1517.0,464.0 1519.0,470.8 1520.2,472.4 1521.0,472.4 1523.0,473.3 1525.0,476.3 1525.5,477.5 1527.0,472.5 1529.0,467.7 1529.1,467.6 1531.0,470.1 1532.6,473.1 1534.4,491.1 1534.4,510.6 1537.9,515.1 1540.6,505.3 1544.2,508.9 1545.1,519.5 1550.4,514.2 1553.1,528.4 1555.7,530.2 1559.3,513.3 1561.9,517.7 1562.8,535.5 1564.6,562.2 1564.8,600.0 1565.0,641.5 1565.5,660.0 1566.3,711.0 1570.5,662.0 1573.5,712.0 1574.9,754.0 1576.1,795.5 1577.2,852.8 1578.2,929.2 1579.5,980.2 1580.8,1031.1 1582.0,1082.0 1583.6,1118.0 1585.6,1056.6 1587.1,980.2 1588.4,929.2 1589.7,878.3 1592.2,827.4 1593.8,789.6 1595.0,760.0 1596.8,730.3 1597.4,694.8 1598.6,659.2 1600.4,635.5 1601.0,600.0 1601.9,565.7 1603.7,544.4 1608.1,532.8 1611.7,539.1 1616.1,555.1 1617.9,569.3 1623.2,573.7 1628.6,576.4 1632.1,588.8 1633.5,610.0 1634.7,629.6 1636.5,659.2 1637.7,694.8 1639.5,730.3 1640.6,765.9 1641.8,801.9 1643.2,852.8 1644.4,929.2 1645.7,980.2 1648.3,1031.1 1650.8,1097.4 1653.3,1031.1 1654.6,980.2 1655.9,929.2 1658.4,891.0 1661.8,880.8 1666.1,903.8 1672.5,924.1 1680.1,911.4 1683.9,921.6 1686.5,954.7 1689.0,992.9 1691.6,1031.1 1693.2,1080.0 1694.1,1117.9 1696.0,1155.8 1697.9,1193.7 1699.8,1231.7 1701.7,1269.6 1704.5,1307.5 1707.4,1345.4 1713.1,1370.0 1716.9,1345.4 1718.8,1307.5 1720.7,1269.6 1721.6,1231.7 1722.6,1193.7 1723.5,1155.8 1724.5,1117.9 1725.4,1080.0 1727.2,1005.7 1731.0,929.2 1734.9,891.0 1740.0,852.8 1745.0,832.5 1748.9,827.4 1753.1,848.9 1755.5,875.0 1757.0,900.0 1758.0,940.0 1758.6,978.0 1759.5,1035.0 1760.5,1080.0 1761.5,1085.0 1762.8,1070.0 1764.4,1035.0 1765.4,978.0 1766.6,940.0 1768.5,900.0 1769.7,878.0 1771.0,850.0 1773.0,800.8 1776.1,751.0 1781.0,726.1 1784.8,713.7 1788.5,676.4 1792.3,639.1 1796.0,614.2 1799.7,589.3 1803.4,564.4 1808.4,544.5 1813.4,514.6 1819.6,489.8 1825.8,486.0 1832.1,484.8 1835.8,469.9 1839.5,464.9 1844.5,472.3 1847.0,514.6 1849.5,564.4 1853.2,614.2 1855.7,663.9 1857.0,713.7 1857.8,769.9 1858.3,842.0 1859.7,993.0 1862.1,1102.0 1863.5,1229.0 1865.0,1330.0 1866.2,1421.0 1867.8,1330.0 1868.6,1229.0 1871.2,1102.0 1873.0,1000.0 1874.3,895.5 1876.0,820.0 1877.3,780.0 1878.7,742.0 1880.5,790.0 1881.3,820.0 1883.1,964.6 1884.6,1100.0 1885.4,1200.0 1886.0,1289.8 1886.9,1391.0 1888.2,1290.0 1889.2,1200.0 1890.6,1127.0 1892.2,1070.0 1894.0,1000.0 1897.6,850.0 1900.2,760.0 1903.6,710.5 1907.0,659.0 1909.6,624.6 1911.3,590.3 1912.2,555.9 1913.9,530.1 1918.2,519.0 1922.5,530.1 1929.4,537.0 1932.8,555.9 1937.1,581.7 1940.5,593.7 1944.0,576.5 1946.5,538.7 1950.0,514.7 1954.3,502.6 1963.7,493.2 1970.6,500.9 1976.6,510.4 1982.6,502.6 1991.2,501.8 2000.7,499.2 2004.9,504.4 2009.2,530.1 2013.5,547.3 2017.0,573.1 2022.1,547.3 2026.4,536.1 2032.4,550.7 2039.3,561.0 2044.5,566.2 2048.8,581.7 2052.2,607.4 2055.6,633.2 2057.3,659.0 2059.1,693.3 2061.1,785.3 2062.2,892.0 2064.3,977.2 2065.4,1032.7 2068.6,987.9 2068.6,838.6" fill="none" stroke="#f00" stroke-width="7.3" stroke-linejoin="round" stroke-linecap="round"/>
<!-- axes -->
<line x1="178" y1="19" x2="178" y2="1427" stroke="#000" stroke-width="6"/>
<line x1="175" y1="1424" x2="2073.5" y2="1424" stroke="#000" stroke-width="6"/>
<line x1="313.2" y1="1424.0" x2="313.2" y2="1409.5" stroke="#000" stroke-width="5.5" stroke-linecap="round"/><line x1="448.4" y1="1424.0" x2="448.4" y2="1395.5" stroke="#000" stroke-width="5.5" stroke-linecap="round"/><line x1="583.6" y1="1424.0" x2="583.6" y2="1409.5" stroke="#000" stroke-width="5.5" stroke-linecap="round"/><line x1="718.8" y1="1424.0" x2="718.8" y2="1395.5" stroke="#000" stroke-width="5.5" stroke-linecap="round"/><line x1="854.0" y1="1424.0" x2="854.0" y2="1409.5" stroke="#000" stroke-width="5.5" stroke-linecap="round"/><line x1="989.2" y1="1424.0" x2="989.2" y2="1395.5" stroke="#000" stroke-width="5.5" stroke-linecap="round"/><line x1="1124.4" y1="1424.0" x2="1124.4" y2="1409.5" stroke="#000" stroke-width="5.5" stroke-linecap="round"/><line x1="1259.6" y1="1424.0" x2="1259.6" y2="1395.5" stroke="#000" stroke-width="5.5" stroke-linecap="round"/><line x1="1394.8" y1="1424.0" x2="1394.8" y2="1409.5" stroke="#000" stroke-width="5.5" stroke-linecap="round"/><line x1="1530.0" y1="1424.0" x2="1530.0" y2="1395.5" stroke="#000" stroke-width="5.5" stroke-linecap="round"/><line x1="1665.2" y1="1424.0" x2="1665.2" y2="1409.5" stroke="#000" stroke-width="5.5" stroke-linecap="round"/><line x1="1800.4" y1="1424.0" x2="1800.4" y2="1395.5" stroke="#000" stroke-width="5.5" stroke-linecap="round"/><line x1="1935.6" y1="1424.0" x2="1935.6" y2="1409.5" stroke="#000" stroke-width="5.5" stroke-linecap="round"/><line x1="2070.8" y1="1424.0" x2="2070.8" y2="1395.5" stroke="#000" stroke-width="5.5" stroke-linecap="round"/>
<text transform="translate(176.50,1521.50) scale(0.975,1)" x="-97.33" y="0" font-size="87.5" font-weight="bold" clip-path="url(#c0)">4000</text><text transform="translate(446.90,1521.50) scale(0.975,1)" x="-97.33" y="0" font-size="87.5" font-weight="bold" clip-path="url(#c1)">3500</text><text transform="translate(717.30,1521.50) scale(0.975,1)" x="-97.33" y="0" font-size="87.5" font-weight="bold" clip-path="url(#c2)">3000</text><text transform="translate(987.70,1521.50) scale(0.975,1)" x="-97.33" y="0" font-size="87.5" font-weight="bold" clip-path="url(#c3)">2500</text><text transform="translate(1258.10,1521.50) scale(0.975,1)" x="-97.33" y="0" font-size="87.5" font-weight="bold" clip-path="url(#c4)">2000</text><text transform="translate(1528.50,1521.50) scale(0.975,1)" x="-97.33" y="0" font-size="87.5" font-weight="bold" clip-path="url(#c5)">1500</text><text transform="translate(1798.90,1521.50) scale(0.975,1)" x="-97.33" y="0" font-size="87.5" font-weight="bold" clip-path="url(#c6)">1000</text><text transform="translate(2069.30,1521.50) scale(0.975,1)" x="-72.99" y="0" font-size="87.5" font-weight="bold" clip-path="url(#c7)">500</text>
<!-- axis titles -->
<text transform="translate(76.4,1078.2) rotate(-90) translate(-0.42,0.00) scale(0.91,1)" font-size="90.4" font-weight="bold">T</text><text transform="translate(76.4,1078.2) rotate(-90) translate(50.88,0.00) scale(1.0,1)" font-size="85.2" font-weight="bold">r</text><text transform="translate(76.4,1078.2) rotate(-90) translate(85.80,0.00) scale(1.0,1)" font-size="85.2" font-weight="bold">a</text><text transform="translate(76.4,1078.2) rotate(-90) translate(133.68,0.00) scale(1.0,1)" font-size="85.2" font-weight="bold">n</text><text transform="translate(76.4,1078.2) rotate(-90) translate(186.00,0.00) scale(1.0,1)" font-size="85.2" font-weight="bold">s</text><text transform="translate(76.4,1078.2) rotate(-90) translate(235.58,0.00) scale(1.0,1)" font-size="85.2" font-weight="bold">m</text><text transform="translate(76.4,1078.2) rotate(-90) translate(314.15,0.00) scale(1.0,1)" font-size="85.2" font-weight="bold">i</text><text transform="translate(76.4,1078.2) rotate(-90) translate(339.46,0.00) scale(1.0,1)" font-size="85.2" font-weight="bold">t</text><text transform="translate(76.4,1078.2) rotate(-90) translate(368.76,0.00) scale(1.0,1)" font-size="85.2" font-weight="bold">t</text><text transform="translate(76.4,1078.2) rotate(-90) translate(392.90,0.00) scale(1.0,1)" font-size="85.2" font-weight="bold">a</text><text transform="translate(76.4,1078.2) rotate(-90) translate(445.68,0.00) scale(1.0,1)" font-size="85.2" font-weight="bold">n</text><text transform="translate(76.4,1078.2) rotate(-90) translate(498.37,0.00) scale(1.0,1)" font-size="85.2" font-weight="bold">c</text><text transform="translate(76.4,1078.2) rotate(-90) translate(547.37,0.00) scale(1.0,1)" font-size="85.2" font-weight="bold">e</text><text transform="translate(76.4,1078.2) rotate(-90) translate(621.46,0.00) scale(1.0,1)" font-size="85.2" font-weight="bold">(</text><text transform="translate(76.4,1078.2) rotate(-90) translate(651.80,0.00) scale(1.0,1)" font-size="85.2" font-weight="bold">a</text><text transform="translate(76.4,1078.2) rotate(-90) translate(698.92,0.00) scale(1.0,1)" font-size="85.2" font-weight="bold">.</text><text transform="translate(76.4,1078.2) rotate(-90) translate(719.82,0.00) scale(1.0,1)" font-size="85.2" font-weight="bold">u</text><text transform="translate(76.4,1078.2) rotate(-90) translate(771.12,0.00) scale(1.0,1)" font-size="85.2" font-weight="bold">.</text><text transform="translate(76.4,1078.2) rotate(-90) translate(804.12,0.00) scale(1.0,1)" font-size="85.2" font-weight="bold">)</text>
<text transform=" translate(595.22,1662.70) scale(0.955,1)" font-size="87" font-weight="bold">W</text><text transform=" translate(675.38,1662.70) scale(1.0,1)" font-size="82.5" font-weight="bold">a</text><text transform=" translate(724.08,1662.70) scale(1.0,1)" font-size="82.5" font-weight="bold">v</text><text transform=" translate(770.08,1662.70) scale(1.0,1)" font-size="82.5" font-weight="bold">e</text><text transform=" translate(818.16,1662.70) scale(1.0,1)" font-size="82.5" font-weight="bold">n</text><text transform=" translate(871.38,1662.70) scale(1.0,1)" font-size="82.5" font-weight="bold">u</text><text transform=" translate(921.96,1662.70) scale(1.0,1)" font-size="82.5" font-weight="bold">m</text><text transform=" translate(999.71,1662.70) scale(1.0,1)" font-size="81.8" font-weight="bold">b</text><text transform=" translate(1049.88,1662.70) scale(1.0,1)" font-size="82.5" font-weight="bold">e</text><text transform=" translate(1097.82,1662.70) scale(1.1,1)" font-size="82.5" font-weight="bold">r</text><text transform=" translate(1156.10,1662.70) scale(0.85,1)" font-size="75.7" font-weight="bold">(</text><text transform=" translate(1181.98,1662.70) scale(1.0,1)" font-size="82.5" font-weight="bold">c</text><text transform=" translate(1228.56,1662.70) scale(1.0,1)" font-size="82.5" font-weight="bold">m</text><text transform=" translate(1307.54,1618.90) scale(1.0,1)" font-size="86" font-weight="bold">-</text><text transform=" translate(1384.74,1662.70) scale(0.85,1)" font-size="75.7" font-weight="bold">)</text><text transform="translate(1334.06,1618.90) scale(1.0,1)" x="0.00" y="0" font-size="86.9" font-weight="bold" clip-path="url(#c17)">1</text>
<!-- labels -->
<text transform=" translate(332.09,104.00) scale(1.0,1)" font-size="76.5" font-weight="bold">(</text><text transform=" translate(358.56,104.00) scale(1.0,1)" font-size="76.5" font-weight="bold">a</text><text transform=" translate(406.63,104.00) scale(1.0,1)" font-size="76.5" font-weight="bold">)</text>
<text transform=" translate(330.19,423.80) scale(1.0,1)" font-size="76.5" font-weight="bold">(</text><text transform=" translate(357.16,423.80) scale(1.0,1)" font-size="76.5" font-weight="bold">b</text><text transform=" translate(408.03,423.80) scale(1.0,1)" font-size="76.5" font-weight="bold">)</text>
<text transform="translate(456.80,643.50) scale(0.955,1)" x="0.00" y="0" font-size="64.5" font-weight="normal" clip-path="url(#c8)">3400</text><text transform="translate(1346.20,1081.50) scale(0.955,1)" x="0.00" y="0" font-size="64.5" font-weight="normal" clip-path="url(#c9)">1405</text><text transform="translate(1545.80,1219.50) scale(0.955,1)" x="0.00" y="0" font-size="64.5" font-weight="normal" clip-path="url(#c10)">1279</text><text transform="translate(1719.40,1199.50) scale(0.955,1)" x="0.00" y="0" font-size="64.5" font-weight="normal" clip-path="url(#c11)">1072</text><text transform="translate(1496.60,1361.00) scale(0.955,1)" x="0.00" y="0" font-size="64.5" font-weight="normal" clip-path="url(#c12)">1180</text><text transform="translate(1727.20,1337.50) scale(0.955,1)" x="0.00" y="0" font-size="64.5" font-weight="normal" clip-path="url(#c13)">880</text><text transform="translate(1959.20,1341.70) scale(0.955,1)" x="0.00" y="0" font-size="64.5" font-weight="normal" clip-path="url(#c14)">840</text><text transform="translate(1910.80,799.00) scale(0.955,1)" x="0.00" y="0" font-size="64.5" font-weight="normal" clip-path="url(#c15)">766</text><text transform="translate(1959.00,697.20) scale(0.955,1)" x="0.00" y="0" font-size="64.5" font-weight="normal" clip-path="url(#c16)">615</text>
<line x1="520.8" y1="524.2" x2="520.8" y2="554.0" stroke="#00f" stroke-width="2.4"/><polygon points="520.8,590.5 511.6,554 530,554" fill="#00f"/><line x1="1576" y1="1120" x2="1534.5" y2="1093.0" stroke="#00f" stroke-width="2.4"/><polygon points="1504.8,1074.2 1539.9,1085.7 1529,1100.3" fill="#00f"/><line x1="1647.6" y1="1095.4" x2="1639.6" y2="1126.9" stroke="#00f" stroke-width="2.4"/><polygon points="1632.3,1161.5 1630,1124.6 1649.2,1129.2" fill="#00f"/><line x1="1763" y1="1084.6" x2="1764.1" y2="1094.6" stroke="#00f" stroke-width="2.4"/><polygon points="1763.7,1130.7 1754.5,1094.6 1773.7,1094.6" fill="#00f"/><line x1="1704.4" y1="1359.8" x2="1680.0" y2="1352.1" stroke="#00f" stroke-width="2.4"/><polygon points="1647,1340.6 1683.5,1343.8 1676.5,1360.4" fill="#00f"/><line x1="1866.8" y1="1390.7" x2="1848.3" y2="1376.8" stroke="#00f" stroke-width="2.4"/><polygon points="1819.8,1355.5 1854.2,1369.7 1842.5,1384" fill="#00f"/><line x1="1896.1" y1="1344.6" x2="1910.4" y2="1338.5" stroke="#00f" stroke-width="2.4"/><polygon points="1943.1,1325 1906.2,1330 1914.6,1347.1" fill="#00f"/><line x1="1941.7" y1="610" x2="1942.8" y2="701.9" stroke="#00f" stroke-width="2.4"/><polygon points="1942,738.5 1933.1,701.9 1952.5,701.9" fill="#00f"/><line x1="2017.8" y1="574.8" x2="2022.4" y2="610.0" stroke="#00f" stroke-width="2.4"/><polygon points="2024.2,645.2 2013.2,610 2031.6,610" fill="#00f"/>
</svg>
</body></html>
